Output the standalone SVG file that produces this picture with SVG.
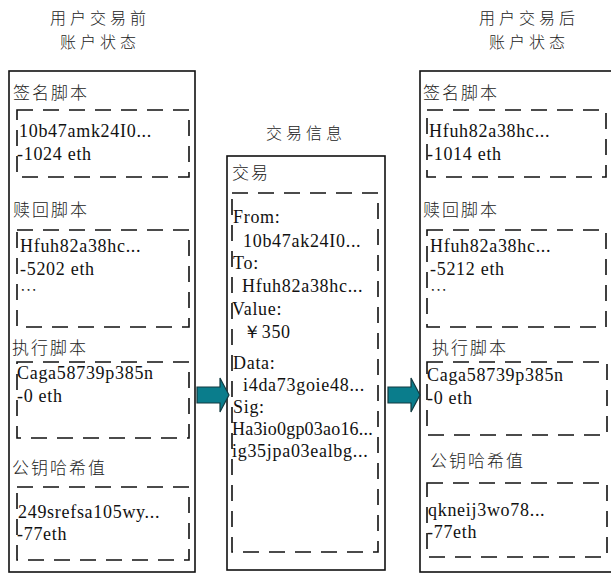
<svg xmlns="http://www.w3.org/2000/svg" width="611" height="575" viewBox="0 0 611 575">
<style>
.outer{fill:#fff;stroke:#111;stroke-width:1.6}
.dash{fill:none;stroke:#111;stroke-width:1.6;stroke-dasharray:16 10}
.cjk{font-family:"Noto Sans CJK SC","Noto Sans CJK JP",sans-serif;font-weight:300;font-size:17px;fill:#222;letter-spacing:2px}
.hdr{font-family:"Noto Sans CJK SC","Noto Sans CJK JP",sans-serif;font-weight:300;font-size:16px;fill:#222;letter-spacing:4px;text-anchor:middle}
.t{font-family:"Liberation Serif","Times New Roman",serif;font-size:18px;fill:#111;letter-spacing:0.7px}
.arrow{fill:#0a7d8c;stroke:#123a40;stroke-width:1.2}
</style>
<rect width="611" height="575" fill="#fff"/>

<g id="header-before">
<text class="hdr" x="100" y="24">用户交易前</text>
<text class="hdr" x="100" y="48">账户状态</text>
</g>
<g id="header-tx">
<text class="hdr" x="306" y="139">交易信息</text>
</g>
<g id="header-after">
<text class="hdr" x="529" y="24">用户交易后</text>
<text class="hdr" x="529" y="48">账户状态</text>
</g>

<g id="account-before">
<rect class="outer" x="9" y="71" width="186" height="501"/>
<text class="cjk" x="13" y="99">签名脚本</text>
<rect class="dash" x="17" y="110" width="172" height="67"/>
<text class="t" x="19" y="137">10b47amk24I0...</text>
<text class="t" x="17" y="160">-1024 eth</text>
<text class="cjk" x="13" y="216">赎回脚本</text>
<rect class="dash" x="17" y="230" width="172" height="97"/>
<text class="t" x="20" y="252">Hfuh82a38hc...</text>
<text class="t" x="20" y="275">-5202 eth</text>
<text class="cjk" x="20" y="297" style="letter-spacing:0">…</text>
<text class="cjk" x="12" y="354">执行脚本</text>
<rect class="dash" x="17" y="362" width="172" height="76"/>
<text class="t" x="17" y="379">Caga58739p385n</text>
<text class="t" x="17" y="402">-0 eth</text>
<text class="cjk" x="12" y="474">公钥哈希值</text>
<rect class="dash" x="17" y="487" width="172" height="73"/>
<text class="t" x="18" y="518">249srefsa105wy...</text>
<text class="t" x="17" y="540">-77eth</text>
</g>

<g id="transaction">
<rect class="outer" x="227" y="156" width="158" height="414"/>
<text class="cjk" x="232" y="179">交易</text>
<rect class="dash" x="232" y="193" width="146" height="359"/>
<text class="t" x="233" y="223">From:</text>
<text class="t" x="243" y="247">10b47ak24I0...</text>
<text class="t" x="233" y="269">To:</text>
<text class="t" x="242" y="292">Hfuh82a38hc...</text>
<text class="t" x="232" y="315">Value:</text>
<text class="t" x="243" y="338">￥350</text>
<text class="t" x="233" y="369">Data:</text>
<text class="t" x="243" y="391">i4da73goie48...</text>
<text class="t" x="233" y="413">Sig:</text>
<text class="t" x="232" y="435" style="letter-spacing:0.2px">Ha3io0gp03ao16...</text>
<text class="t" x="232" y="457">ig35jpa03ealbg...</text>
</g>

<g id="account-after">
<rect class="outer" x="420" y="71" width="200" height="501"/>
<text class="cjk" x="423" y="99">签名脚本</text>
<rect class="dash" x="427" y="110" width="179" height="67"/>
<text class="t" x="429" y="137">Hfuh82a38hc...</text>
<text class="t" x="427" y="160">-1014 eth</text>
<text class="cjk" x="423" y="216">赎回脚本</text>
<rect class="dash" x="427" y="230" width="179" height="97"/>
<text class="t" x="430" y="252">Hfuh82a38hc...</text>
<text class="t" x="430" y="275">-5212 eth</text>
<text class="cjk" x="430" y="297" style="letter-spacing:0">…</text>
<text class="cjk" x="432" y="354">执行脚本</text>
<rect class="dash" x="427" y="362" width="180" height="73"/>
<text class="t" x="427" y="381">Caga58739p385n</text>
<text class="t" x="427" y="404">-0 eth</text>
<text class="cjk" x="430" y="467">公钥哈希值</text>
<rect class="dash" x="427" y="483" width="180" height="74"/>
<text class="t" x="428" y="516">qkneij3wo78...</text>
<text class="t" x="427" y="538">-77eth</text>
</g>

<g id="connectors">
<polygon class="arrow" points="197,387 220,387 220,378 229,395 220,412 220,403 197,403"/>
<polygon class="arrow" points="388,387 411,387 411,378 420,395 411,412 411,403 388,403"/>
</g>
</svg>
